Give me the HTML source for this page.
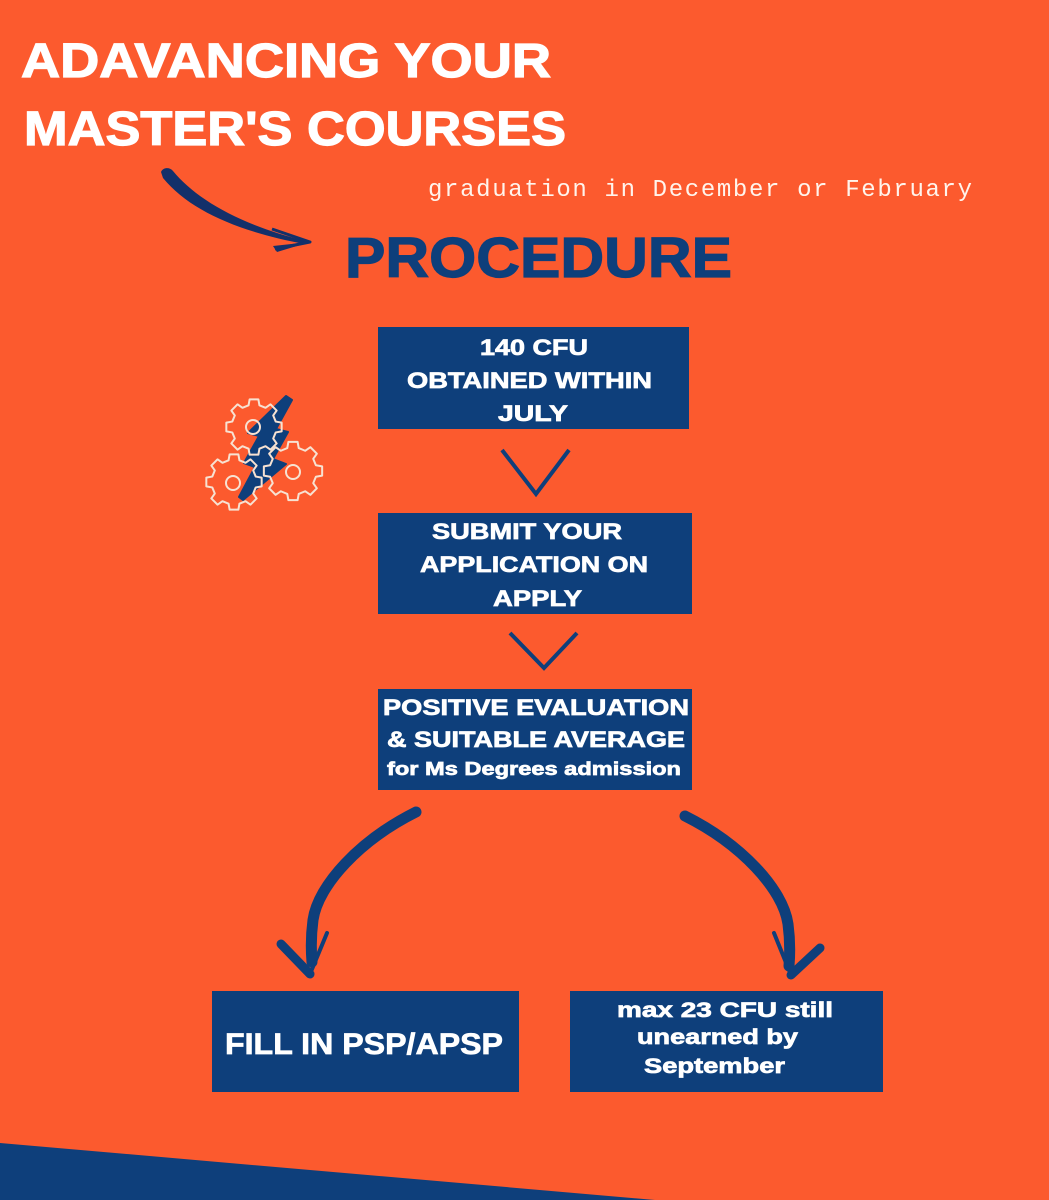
<!DOCTYPE html>
<html>
<head>
<meta charset="utf-8">
<style>
  html, body { margin:0; padding:0; background:#fc5a2e; }
  svg { display:block; }
  .t { font-family:"Liberation Sans", Arial, sans-serif; font-weight:bold; fill:#ffffff; stroke:#ffffff; stroke-width:0.7; }
</style>
</head>
<body>
<svg width="1049" height="1200" viewBox="0 0 1049 1200" xmlns="http://www.w3.org/2000/svg">
  <rect x="0" y="0" width="1049" height="1200" fill="#fc5a2e"/>

  <!-- bottom triangle -->
  <polygon points="0,1143 655,1200 0,1200" fill="#0e3f7b"/>

  <!-- Title -->
  <text class="t" x="21" y="77" font-size="48" textLength="530" lengthAdjust="spacingAndGlyphs" style="stroke-width:1.2">ADAVANCING YOUR</text>
  <text class="t" x="24" y="145" font-size="48" textLength="542" lengthAdjust="spacingAndGlyphs" style="stroke-width:1.2">MASTER'S COURSES</text>

  <!-- subtitle -->
  <text x="428" y="196" font-family="'Liberation Mono', 'Courier New', monospace" font-size="24" textLength="544" lengthAdjust="spacing" fill="#fff4ec">graduation in December or February</text>

  <!-- title arrow -->
  <path d="M161,172 C163,167 170,167 173,171 C196,199 240,225 306,241 L305,244 C240,232 190,211 163,178 Z" fill="#13306a"/>
  <polyline points="272,229 310,242 275,249" fill="none" stroke="#13306a" stroke-width="3" stroke-linejoin="round"/>
  <polygon points="310,242 273,246 277,252" fill="#13306a"/>

  <!-- PROCEDURE -->
  <text class="t" x="345" y="277" font-size="57" textLength="387" lengthAdjust="spacingAndGlyphs" style="fill:#0e3f7b;stroke:#0e3f7b;stroke-width:1.2">PROCEDURE</text>

  <!-- Gears icon -->
  <polygon points="286,396 292,400 276,429 288,432 273,459 286,464 243,500 239,497 255,467 244,463 259,436 248,433" fill="#0e3f7b" stroke="#0e3f7b" stroke-width="2" stroke-linejoin="round"/>
  <g fill="none" stroke="#f7e2d2" stroke-width="2" stroke-linejoin="round">
    <g transform="translate(254,427) scale(28)">
      <polygon vector-effect="non-scaling-stroke" points="0.776,-0.194 0.988,-0.156 0.988,0.156 0.776,0.194 0.686,0.412 0.809,0.588 0.588,0.809 0.412,0.686 0.194,0.776 0.156,0.988 -0.156,0.988 -0.194,0.776 -0.412,0.686 -0.588,0.809 -0.809,0.588 -0.686,0.412 -0.776,0.194 -0.988,0.156 -0.988,-0.156 -0.776,-0.194 -0.686,-0.412 -0.809,-0.588 -0.588,-0.809 -0.412,-0.686 -0.194,-0.776 -0.156,-0.988 0.156,-0.988 0.194,-0.776 0.412,-0.686 0.588,-0.809 0.809,-0.588 0.686,-0.412"/>
    </g>
    <g transform="translate(234,482) scale(28)">
      <polygon vector-effect="non-scaling-stroke" points="0.776,-0.194 0.988,-0.156 0.988,0.156 0.776,0.194 0.686,0.412 0.809,0.588 0.588,0.809 0.412,0.686 0.194,0.776 0.156,0.988 -0.156,0.988 -0.194,0.776 -0.412,0.686 -0.588,0.809 -0.809,0.588 -0.686,0.412 -0.776,0.194 -0.988,0.156 -0.988,-0.156 -0.776,-0.194 -0.686,-0.412 -0.809,-0.588 -0.588,-0.809 -0.412,-0.686 -0.194,-0.776 -0.156,-0.988 0.156,-0.988 0.194,-0.776 0.412,-0.686 0.588,-0.809 0.809,-0.588 0.686,-0.412"/>
    </g>
    <g transform="translate(293,471) scale(29.5)">
      <polygon vector-effect="non-scaling-stroke" points="0.776,-0.194 0.988,-0.156 0.988,0.156 0.776,0.194 0.686,0.412 0.809,0.588 0.588,0.809 0.412,0.686 0.194,0.776 0.156,0.988 -0.156,0.988 -0.194,0.776 -0.412,0.686 -0.588,0.809 -0.809,0.588 -0.686,0.412 -0.776,0.194 -0.988,0.156 -0.988,-0.156 -0.776,-0.194 -0.686,-0.412 -0.809,-0.588 -0.588,-0.809 -0.412,-0.686 -0.194,-0.776 -0.156,-0.988 0.156,-0.988 0.194,-0.776 0.412,-0.686 0.588,-0.809 0.809,-0.588 0.686,-0.412"/>
    </g>
    <circle cx="253" cy="427" r="7"/>
    <circle cx="233" cy="483" r="7"/>
    <circle cx="293" cy="472" r="7"/>
  </g>

  <!-- Box 1 -->
  <rect x="378" y="327" width="311" height="102" fill="#0e3f7b"/>
  <text class="t" x="480" y="355" font-size="22" textLength="108" lengthAdjust="spacingAndGlyphs">140 CFU</text>
  <text class="t" x="407" y="388" font-size="22" textLength="245" lengthAdjust="spacingAndGlyphs">OBTAINED WITHIN</text>
  <text class="t" x="498" y="421" font-size="22" textLength="70" lengthAdjust="spacingAndGlyphs">JULY</text>

  <!-- chevron 1 -->
  <polyline points="502,450 536,494 569,450" fill="none" stroke="#0e3f7b" stroke-width="4"/>

  <!-- Box 2 -->
  <rect x="378" y="513" width="314" height="101" fill="#0e3f7b"/>
  <text class="t" x="432" y="539" font-size="22" textLength="190" lengthAdjust="spacingAndGlyphs">SUBMIT YOUR</text>
  <text class="t" x="420" y="572" font-size="22" textLength="228" lengthAdjust="spacingAndGlyphs">APPLICATION ON</text>
  <text class="t" x="493" y="606" font-size="22" textLength="89" lengthAdjust="spacingAndGlyphs">APPLY</text>

  <!-- chevron 2 -->
  <polyline points="510,633 544,668 577,633" fill="none" stroke="#0e3f7b" stroke-width="4"/>

  <!-- Box 3 -->
  <rect x="378" y="689" width="314" height="101" fill="#0e3f7b"/>
  <text class="t" x="383" y="715" font-size="22" textLength="306" lengthAdjust="spacingAndGlyphs">POSITIVE EVALUATION</text>
  <text class="t" x="387" y="747" font-size="22" textLength="298" lengthAdjust="spacingAndGlyphs">&amp; SUITABLE AVERAGE</text>
  <text class="t" x="387" y="775" font-size="18" textLength="294" lengthAdjust="spacingAndGlyphs">for Ms Degrees admission</text>

  <!-- Left curved arrow -->
  <g fill="none" stroke="#0e3f7b" stroke-linecap="round" stroke-linejoin="round">
    <path d="M416,812 C360,840 318,885 313,920 C311,935 311,950 312,962" stroke-width="11"/>
    <path d="M281,944 L310,974" stroke-width="9"/>
    <path d="M327,933 L310,974" stroke-width="4"/>
  </g>

  <!-- Right curved arrow (mirrored) -->
  <g transform="translate(1101,4) scale(-1,1)" fill="none" stroke="#0e3f7b" stroke-linecap="round" stroke-linejoin="round">
    <path d="M416,812 C360,840 318,885 313,920 C311,935 311,950 312,962" stroke-width="11"/>
    <path d="M281,944 L310,971" stroke-width="9"/>
    <path d="M327,929 L310,971" stroke-width="4"/>
  </g>

  <!-- Box 4 -->
  <rect x="212" y="991" width="307" height="101" fill="#0e3f7b"/>
  <text class="t" x="225" y="1054" font-size="30" textLength="278" lengthAdjust="spacingAndGlyphs">FILL IN PSP/APSP</text>

  <!-- Box 5 -->
  <rect x="570" y="991" width="313" height="101" fill="#0e3f7b"/>
  <text class="t" x="617" y="1017" font-size="21" textLength="216" lengthAdjust="spacingAndGlyphs">max 23 CFU still</text>
  <text class="t" x="637" y="1044" font-size="21" textLength="161" lengthAdjust="spacingAndGlyphs">unearned by</text>
  <text class="t" x="644" y="1073" font-size="21" textLength="141" lengthAdjust="spacingAndGlyphs">September</text>
</svg>
</body>
</html>
